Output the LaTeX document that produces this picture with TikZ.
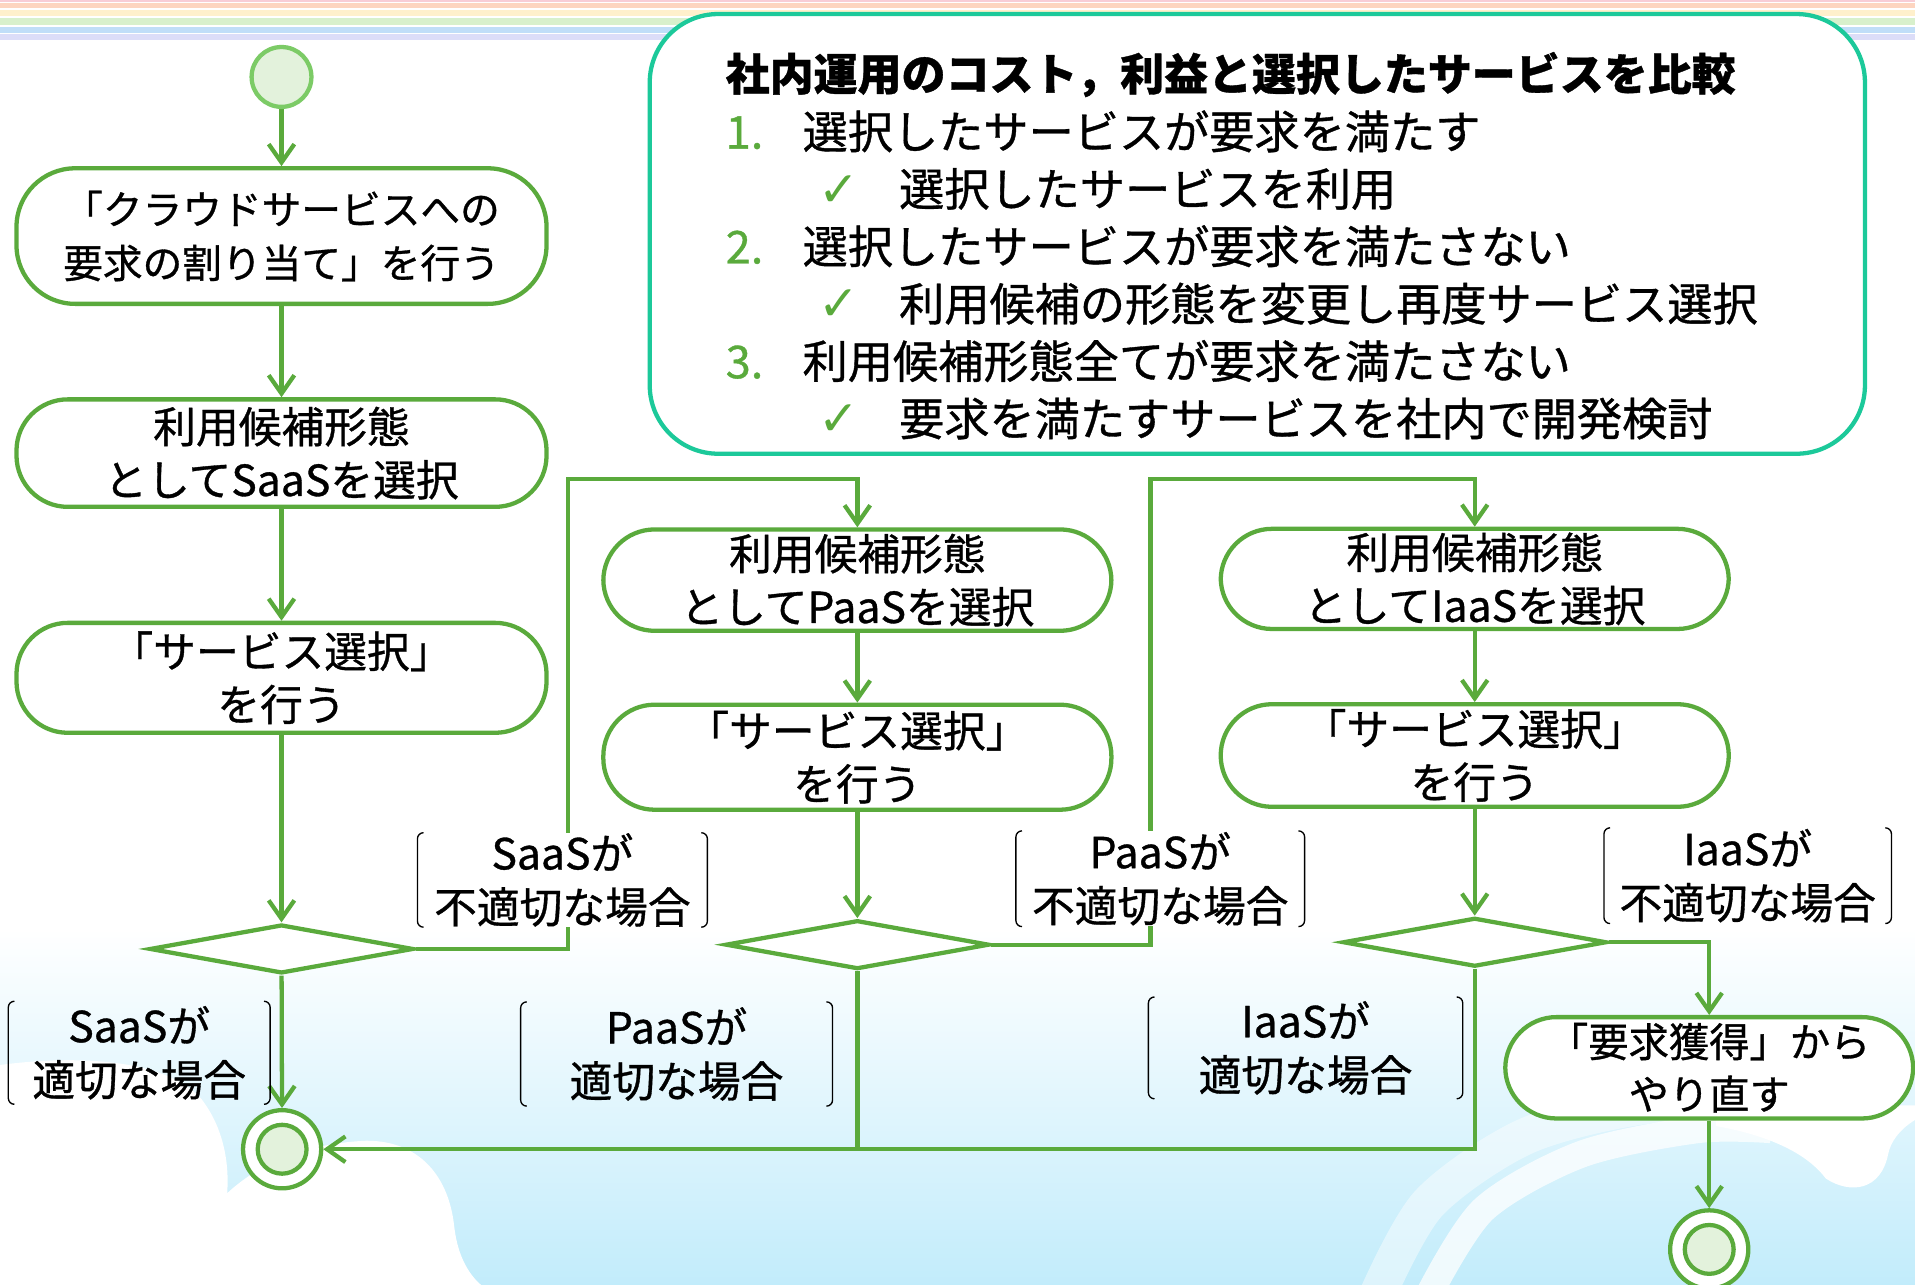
\documentclass[tikz,border=0pt]{standalone}
\usepackage{fontspec}
\setmainfont[RawFeature={embolden=0.8}]{Noto Sans CJK JP}
\newfontfamily\symfont{DejaVu Sans}
\usetikzlibrary{shapes.geometric,arrows.meta}
\definecolor{lg}{HTML}{5AAA3C}
\definecolor{startstroke}{HTML}{7CCB66}
\definecolor{pale}{HTML}{E3F2DC}
\definecolor{tealc}{HTML}{1CC99A}
\definecolor{bgblue}{HTML}{C2ECFB}
\definecolor{sA}{HTML}{F8CDD6}
\definecolor{sB}{HTML}{FDD5C0}
\definecolor{sC}{HTML}{FFF0CC}
\definecolor{sD}{HTML}{D8F0CC}
\definecolor{sE}{HTML}{C0DEF8}
\definecolor{sF}{HTML}{DCDDF8}
\newcommand\brk[1]{%
  \draw[brkline] ([xshift=5pt]#1.north west) -- (#1.north west) -- (#1.south west) -- ([xshift=5pt]#1.south west);
  \draw[brkline] ([xshift=-5pt]#1.north east) -- (#1.north east) -- (#1.south east) -- ([xshift=-5pt]#1.south east);}
\begin{document}
\begin{tikzpicture}[x=1pt,y=-1pt,
  actbox/.style={draw=lg, line width=3.5pt, fill=white, rounded corners=42pt, inner sep=0pt, align=center,
    font=\fontsize{35}{43.5}\selectfont, minimum width=434pt},
  dia/.style={diamond, draw=lg, line width=3.5pt, fill=white, minimum width=216pt, minimum height=40pt, inner sep=0pt},
  startnode/.style={circle, draw=startstroke, fill=pale, line width=3.5pt, minimum size=49pt, inner sep=0pt},
  endnode/.style={circle, draw=lg, fill=white, line width=3.5pt, minimum size=64pt, inner sep=0pt,
    path picture={\draw[lg, line width=3.5pt, fill=pale] (path picture bounding box.center) circle (20pt);}},
  flow/.style={draw=lg, line width=3.5pt, -{Straight Barb[length=15pt,width=21pt]}},
  plain/.style={draw=lg, line width=3.5pt},
  lab/.style={inner sep=0pt, align=center, font=\fontsize{35}{44}\selectfont},
  labw/.style={lab, fill=white},
  brkline/.style={black, line width=1.1pt, rounded corners=5pt},
  tline/.style={anchor=base west, inner sep=0pt, font=\fontsize{37}{40}\selectfont},
  numl/.style={tline, text=lg},
  chk/.style={anchor=base west, inner sep=0pt, text=lg, font=\symfont\fontsize{40}{44}\selectfont},
]
\useasboundingbox (0,0) rectangle (1568,1052);
% ---------- background ----------
\fill[white] (0,0) rectangle (1568,1052);
\shade[top color=white, bottom color=bgblue] (0,760) rectangle (1568,1052.5);
\fill[white] (0,1053) -- (0,872) .. controls (60,864) and (135,866) .. (165,900)
  .. controls (182,922) and (188,950) .. (186,977)
  .. controls (215,950) and (255,936) .. (300,934)
  .. controls (345,934) and (368,965) .. (372,1005)
  .. controls (375,1030) and (385,1045) .. (395,1053) -- cycle;
\draw[white, line width=30pt, opacity=0.45] plot[smooth] coordinates {(1128,1060) (1170,985) (1250,930) (1350,905) (1450,905)};
\draw[white, line width=22pt, opacity=0.75] plot[smooth] coordinates {(1170,1060) (1215,990) (1295,945) (1390,925) (1450,925)};
\fill[white] (1405,905) -- (1568,905) -- (1568,917) .. controls (1555,925) and (1548,935) .. (1546,945)
  .. controls (1540,975) and (1515,978) .. (1495,965) .. controls (1480,945) and (1450,930) .. (1405,922) -- cycle;
\fill[sA] (0,0) rectangle (1568,2);
\fill[sB] (0,2.8) rectangle (1568,6.8);
\fill[sC] (0,8.5) rectangle (1568,13.5);
\fill[sD] (0,15) rectangle (1568,20.5);
\fill[sE] (0,22) rectangle (1568,27);
\fill[sF] (0,27.5) rectangle (1568,33);
% ---------- info box ----------
\node[draw=tealc, line width=3.5pt, fill=white, rounded corners=56pt, minimum width=995pt, minimum height=360pt] (tb) at (1029.5,191.5) {};
\node[tline, font=\bfseries\fontsize{36}{40}\selectfont] (t0) at (594,74) {社内運用のコスト，利益と選択したサービスを比較};
\node[numl] (n1) at (594,121.7) {1.};
\node[tline] (t1) at (657,121.7) {選択したサービスが要求を満たす};
\node[chk] (c1) at (670,168.7) {✓};
\node[tline] (s1) at (736,168.7) {選択したサービスを利用};
\node[numl] (n2) at (594,215.7) {2.};
\node[tline] (t2) at (657,215.7) {選択したサービスが要求を満たさない};
\node[chk] (c2) at (670,262.7) {✓};
\node[tline] (s2) at (736,262.7) {利用候補の形態を変更し再度サービス選択};
\node[numl] (n3) at (594,309.7) {3.};
\node[tline] (t3) at (657,309.7) {利用候補形態全てが要求を満たさない};
\node[chk] (c3) at (670,356.7) {✓};
\node[tline] (s3) at (736,356.7) {要求を満たすサービスを社内で開発検討};
% ---------- nodes ----------
\node[startnode] (st) at (230.5,63) {};
\node[actbox, minimum height=111pt, font=\fontsize{32.5}{44}\selectfont, rounded corners=48pt] (b1) at (230.5,193.3) {「クラウドサービスへの\\要求の割り当て」を行う};
\node[actbox, minimum height=88pt] (b2) at (230.5,371) {利用候補形態\\としてSaaSを選択};
\node[actbox, minimum height=90pt] (b3) at (230.5,555) {「サービス選択」\\を行う};
\node[dia] (d1) at (230.5,777) {};
\node[endnode] (f1) at (231,941) {};
\node[actbox, minimum width=416pt, minimum height=83pt] (p1) at (702,475) {利用候補形態\\としてPaaSを選択};
\node[actbox, minimum width=416pt, minimum height=86pt] (p2) at (702,620) {「サービス選択」\\を行う};
\node[dia] (d2) at (702,773.5) {};
\node[actbox, minimum width=416pt, minimum height=82pt] (i1) at (1207.5,474) {利用候補形態\\としてIaaSを選択};
\node[actbox, minimum width=416pt, minimum height=84pt] (i2) at (1207.5,618.6) {「サービス選択」\\を行う};
\node[dia] (d3) at (1207.5,771.5) {};
\node[actbox, minimum width=334pt, minimum height=83pt, font=\fontsize{33}{43}\selectfont] (r) at (1399.5,874.3) {「要求獲得」から\\やり直す};
\node[endnode] (f2) at (1399.5,1023) {};
% ---------- connectors ----------
\coordinate (k1) at (465,392);
\coordinate (k2) at (942,392);
\draw[flow] (st) -- (b1);
\draw[flow] (b1) -- (b2);
\draw[flow] (b2) -- (b3);
\draw[flow] (b3) -- (d1);
\draw[flow] (d1) -- (f1);
\draw[flow] (d1.east) -| (k1) -| (p1.north);
\draw[flow] (p1) -- (p2);
\draw[flow] (p2) -- (d2);
\draw[plain] (d2.south) -- (d2.south |- f1.east);
\draw[flow] (d2.east) -| (k2) -| (i1.north);
\draw[flow] (i1) -- (i2);
\draw[flow] (i2) -- (d3);
\draw[flow] (d3.south) |- (f1.east);
\draw[flow] (d3.east) -| (r.north);
\draw[flow] (r) -- (f2);
% ---------- guard labels ----------
\node[labw, minimum width=237pt, minimum height=77pt] (l1) at (460.5,720.5) {SaaSが\\不適切な場合};
\node[labw, minimum width=236pt, minimum height=78pt] (l2) at (950,719.5) {PaaSが\\不適切な場合};
\node[labw, minimum width=235pt, minimum height=78pt] (l3) at (1431,717) {IaaSが\\不適切な場合};
\node[lab, minimum width=214pt, minimum height=84pt] (l4) at (114,862) {SaaSが\\適切な場合};
\node[lab, minimum width=255pt, minimum height=85pt] (l5) at (554,863) {PaaSが\\適切な場合};
\node[lab, minimum width=257pt, minimum height=83pt] (l6) at (1069,858) {IaaSが\\適切な場合};
\brk{l1}\brk{l2}\brk{l3}\brk{l4}\brk{l5}\brk{l6}
\end{tikzpicture}
\end{document}
